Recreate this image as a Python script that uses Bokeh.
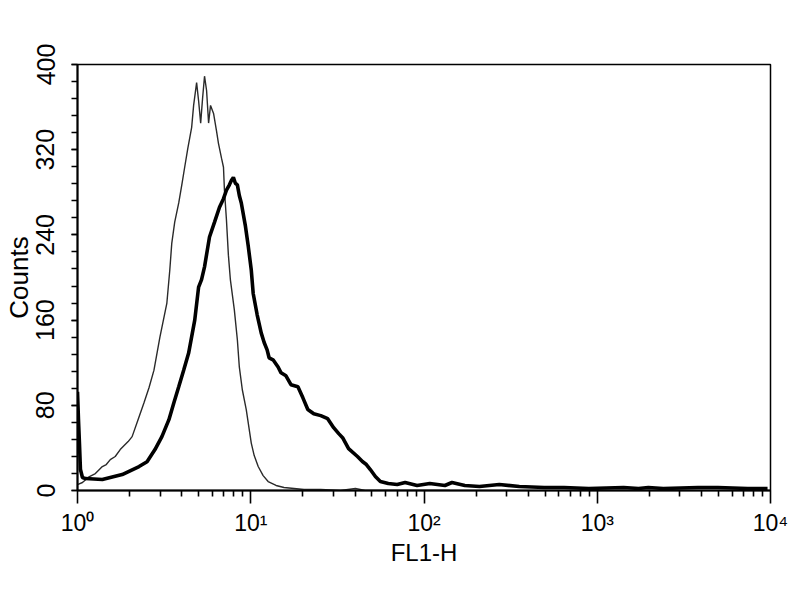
from bokeh.plotting import figure
from bokeh.models import Range1d, FixedTicker, CustomJSTickFormatter
from bokeh.embed import file_html
from bokeh.resources import INLINE

# control (thin line) histogram
ctrl_x = [1.0, 1.068, 1.172, 1.268, 1.337, 1.391, 1.466, 1.546, 1.651, 1.764,
          1.859, 1.960, 2.067, 2.236, 2.42, 2.586, 2.763, 2.99, 3.28, 3.41,
          3.50, 3.64, 3.84, 4.00, 4.16, 4.33, 4.56, 4.68, 4.87, 5.00,
          5.14, 5.27, 5.41, 5.56, 5.71, 5.86, 6.10, 6.34, 6.51, 6.78,
          6.96, 7.05, 7.24, 7.43, 7.63, 8.04, 8.37, 8.59, 8.94, 9.42,
          10.07, 10.47, 11.04, 11.79, 12.60, 14.0, 15.56, 20.3, 25.35, 33.0,
          40.2, 45.7, 141.0]
ctrl_y = [5.6, 7.5, 13.1, 15.9, 19.7, 22.5, 24.4, 29.0, 31.9, 38.4,
          42.2, 45.9, 50.6, 66.5, 82.4, 96.5, 113, 144, 176, 207,
          232, 252, 270, 287, 304, 321, 341, 361.6, 383, 366,
          345, 368, 389, 375.6, 345, 361.6, 354, 338, 326, 312,
          303.5, 282, 254, 221, 197.7, 169.6, 141.5, 116, 94.6, 75.9,
          44.5, 32.8, 22.5, 14.0, 8.4, 4.7, 2.8, 0.9, 1.0, 0.0,
          1.9, 0.0, 0.0]

# stained sample (thick line) histogram
samp_x = [1.0, 1.013, 1.027, 1.04, 1.068, 1.111, 1.391, 1.811, 2.266, 2.52,
          2.80, 3.07, 3.37, 3.60, 3.84, 4.10, 4.38, 4.75, 5.00, 5.20,
          5.41, 5.78, 6.18, 6.60, 6.96, 7.24, 7.53, 7.73, 7.94, 8.15,
          8.37, 8.59, 8.82, 9.30, 9.68, 10.07, 10.33, 10.89, 11.49, 11.95,
          12.43, 12.76, 13.45, 14.38, 14.96, 15.97, 17.06, 18.72, 20.0, 21.35,
          23.1, 25.35, 27.8, 30.1, 32.2, 33.9, 36.7, 41.3, 44.1, 46.5,
          49.0, 52.4, 55.98, 62.2, 70.0, 77.8, 91.2, 108, 132, 145,
          172, 209, 272, 355, 494, 643, 894, 1419, 1730, 1972,
          2405, 3817, 4970, 7385, 9615]
samp_y = [92.7, 66.5, 43.0, 19.7, 12.2, 11.2, 10.3, 15.0, 22.5, 27.0,
          38.4, 50.6, 66.5, 82.4, 97.4, 113, 129, 160, 191, 198,
          210, 238, 252, 266, 274, 282, 287, 291, 294, 288.5,
          287, 277, 270, 249, 229, 207, 185, 165, 148, 139,
          132, 124.6, 122.7, 116, 110.5, 107.7, 99.3, 97.4, 87.0, 76.0,
          72.0, 70.3, 67.4, 59.0, 53.4, 49.6, 39.3, 31.9, 27.2, 24.4,
          19.7, 13.1, 8.4, 6.6, 5.6, 7.5, 4.7, 6.6, 4.7, 7.5,
          4.7, 3.7, 5.6, 3.7, 2.8, 2.8, 1.9, 2.8, 1.9, 2.8,
          1.9, 2.8, 2.8, 1.9, 1.9]

x_ticks = [1, 10, 100, 1000, 10000]
x_tick_labels = ["10\u2070", "10\u00b9", "10\u00b2", "10\u00b3", "10\u2074"]
y_ticks = [0, 80, 160, 240, 320, 400]

x_minor = [m * d for d in [1, 10, 100, 1000] for m in range(2, 10)]
y_minor = list(range(0, 401, 16))

FONT = "Liberation Sans Narrow, Liberation Sans"

p = figure(width=792, height=568, x_axis_type="log",
           x_range=Range1d(1, 10000), y_range=Range1d(0, 400),
           output_backend="svg", toolbar_location=None,
           min_border_left=75, min_border_top=64,
           min_border_right=22, min_border_bottom=77)

p.line(ctrl_x, ctrl_y, line_color="#2a2a2a", line_width=1.4)
p.line(samp_x, samp_y, line_color="black", line_width=3.6)

p.xgrid.visible = False
p.ygrid.visible = False
p.outline_line_color = "black"
p.outline_line_width = 1.5
p.outline_line_alpha = 1

p.xaxis.ticker = FixedTicker(ticks=x_ticks, minor_ticks=x_minor)
p.xaxis.formatter = CustomJSTickFormatter(
    args=dict(decades=x_ticks, names=x_tick_labels),
    code="""
    const i = decades.findIndex(t => Math.abs(t - tick) < 1e-6 * t);
    return i >= 0 ? names[i] : '';
""")
p.yaxis.ticker = FixedTicker(ticks=y_ticks, minor_ticks=y_minor)
p.yaxis.major_label_orientation = "vertical"

for ax in (p.xaxis, p.yaxis):
    ax.axis_line_width = 2
    ax.axis_line_color = "black"
    ax.major_tick_line_color = "black"
    ax.minor_tick_line_color = "black"
    ax.major_tick_line_width = 1.6
    ax.minor_tick_line_width = 1.6
    ax.major_tick_in = 0
    ax.minor_tick_in = 0
    ax.major_label_text_font = FONT
    ax.major_label_text_color = "black"
    ax.axis_label_text_font = FONT
    ax.axis_label_text_font_style = "normal"
    ax.axis_label_text_color = "black"

p.xaxis.major_tick_out = 13
p.xaxis.minor_tick_out = 6
p.xaxis.major_label_standoff = 6
p.xaxis.major_label_text_font_size = "23px"
p.xaxis.axis_label = "FL1-H"
p.xaxis.axis_label_text_font_size = "24px"
p.xaxis.axis_label_standoff = 0

p.yaxis.major_tick_out = 6
p.yaxis.minor_tick_out = 6
p.yaxis.major_label_standoff = 17
p.yaxis.major_label_text_font_size = "25px"
p.yaxis.axis_label = "Counts"
p.yaxis.axis_label_text_font_size = "26px"
p.yaxis.axis_label_standoff = 0

open("out.html", "w").write(file_html(p, INLINE))
